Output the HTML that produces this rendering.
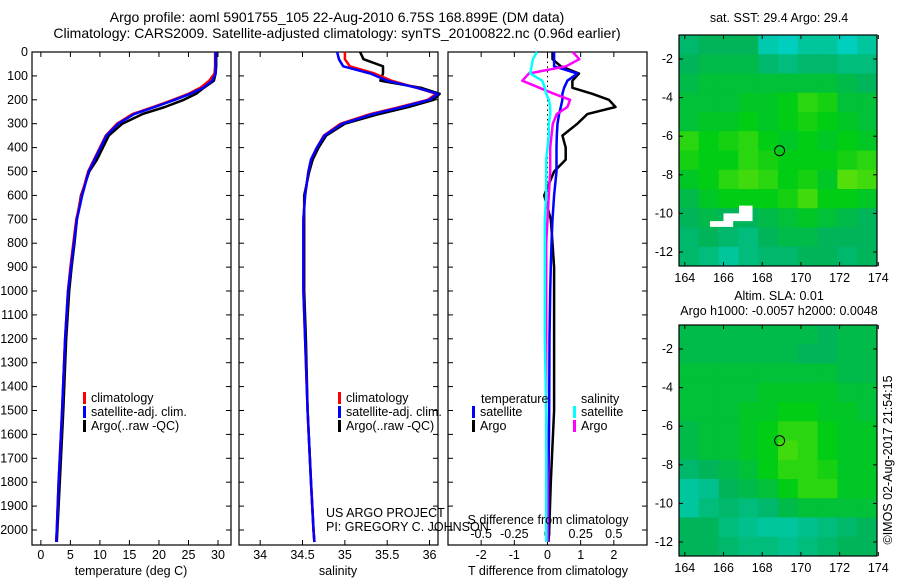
<!DOCTYPE html>
<html><head><meta charset="utf-8"><style>
body{margin:0;background:#fff;width:900px;height:580px;overflow:hidden}
svg{display:block;font-family:"Liberation Sans",sans-serif}
text{font-size:12.5px;fill:#000}
</style></head><body>
<svg id="c" width="900" height="580">
<text x="337" y="22" text-anchor="middle" style="font-size:14px">Argo profile: aoml 5901755_105 22-Aug-2010 6.75S 168.899E (DM data)</text>
<text x="337" y="38" text-anchor="middle" style="font-size:14px">Climatology: CARS2009. Satellite-adjusted climatology: synTS_20100822.nc (0.96d earlier)</text>
<text x="779" y="22" text-anchor="middle">sat. SST: 29.4 Argo: 29.4</text>
<text x="779" y="300" text-anchor="middle">Altim. SLA: 0.01</text>
<text x="779" y="315" text-anchor="middle">Argo h1000: -0.0057 h2000: 0.0048</text>
<text transform="translate(892,460) rotate(-90)" text-anchor="middle">©IMOS 02-Aug-2017 21:54:15</text>
</svg>
<script>
// ---- data ----
const depths = [0,30,60,90,120,150,175,200,230,260,300,350,400,450,500,600,700,800,900,1000,1200,1500,1800,2000,2050];
const tempClim = [29.5,29.5,29.5,29.4,28.5,27,25,22.4,19,15.5,12.9,11,10,9,8,6.9,6,5.5,5,4.6,4.1,3.6,3.0,2.7,2.6];
const tempSat  = [29.6,29.6,29.6,29.6,29,27.5,25.3,22.7,19.3,15.8,13.1,11.1,10.1,9.1,8.1,7,6.1,5.6,5.1,4.6,4.1,3.6,3.0,2.7,2.6];
const tempArgo = [29.7,29.7,29.7,29.6,29.3,27.6,26.3,24.2,21,17.2,13.8,11.5,10.5,9.5,8.2,6.8,6.1,5.7,5.2,4.8,4.3,3.8,3.2,2.8,2.7];
const salClim = [35.0,35.0,35.06,35.35,35.55,35.85,36.08,35.98,35.65,35.3,34.95,34.75,34.67,34.6,34.57,34.53,34.51,34.51,34.51,34.51,34.53,34.56,34.6,34.63,34.64];
const salSat  = [34.91,34.93,34.98,35.3,35.5,35.85,36.1,36.0,35.68,35.33,34.97,34.76,34.67,34.6,34.57,34.53,34.51,34.51,34.51,34.51,34.53,34.56,34.6,34.63,34.64];
const salArgo = [35.18,35.22,35.45,35.45,35.42,35.9,36.12,36.05,35.75,35.4,35.0,34.78,34.69,34.62,34.58,34.52,34.52,34.52,34.52,34.52,34.54,34.56,34.6,34.63,34.64];
const dTsat  = [0.2,0.2,0.2,0.9,0.6,0.5,0.45,0.45,0.4,0.35,0.3,0.28,0.27,0.27,0.27,0.2,0.15,0.12,0.1,0.08,0.06,0.05,0.03,0.02,0.02];
const dTargo = [0.15,0.15,0.4,0.95,0.75,0.75,1.35,1.85,2.05,1.2,0.9,0.45,0.55,0.55,0.2,-0.1,0.1,0.15,0.2,0.2,0.2,0.2,0.1,0.05,0.03];
const dSargo = [0.19,0.24,0.14,-0.14,-0.19,-0.06,0.05,0.17,0.15,0.07,0.04,0.03,0.02,0.02,0.02,0.01,0.0,-0.01,-0.01,-0.01,-0.01,-0.01,0,0,0];
const dSsat  = [-0.08,-0.11,-0.12,-0.13,-0.04,-0.02,-0.01,0.01,0.02,0.02,0.01,0.01,0.0,-0.01,-0.01,-0.01,-0.02,-0.02,-0.02,-0.02,-0.02,-0.01,-0.01,-0.01,-0.01];
const depthTicks = [0,100,200,300,400,500,600,700,800,900,1000,1100,1200,1300,1400,1500,1600,1700,1800,1900,2000];
const tempTicks = [0,5,10,15,20,25,30];
const salTicks = [34,34.5,35,35.5,36];
const dTTicks = [-2,-1,0,1,2];
const dSTicks = [-0.5,-0.25,0,0.25,0.5];
const lonTicks = [164,166,168,170,172,174];
const latTicks = [-2,-4,-6,-8,-10,-12];
const sstGrid = [
[0.35,0.4,0.4,0.4,0.15,0.1,0.2,0.2,0.1,0.2],
[0.4,0.45,0.45,0.45,0.35,0.3,0.35,0.35,0.3,0.3],
[0.45,0.5,0.5,0.5,0.5,0.5,0.5,0.5,0.45,0.4],
[0.5,0.5,0.5,0.55,0.55,0.6,0.7,0.65,0.5,0.5],
[0.5,0.55,0.55,0.6,0.55,0.6,0.65,0.6,0.55,0.5],
[0.7,0.6,0.65,0.7,0.6,0.55,0.6,0.55,0.6,0.55],
[0.65,0.6,0.6,0.7,0.65,0.6,0.6,0.6,0.65,0.7],
[0.55,0.6,0.7,0.75,0.7,0.6,0.65,0.55,0.8,0.75],
[0.45,0.55,0.6,0.6,0.6,0.65,0.75,0.6,0.6,0.55],
[0.4,0.45,0.4,0.4,0.45,0.5,0.55,0.5,0.45,0.4],
[0.35,0.4,0.35,0.3,0.4,0.45,0.45,0.4,0.4,0.4],
[0.35,0.3,0.2,0.3,0.35,0.35,0.4,0.4,0.35,0.4]];
const slaGrid = [
[0.45,0.45,0.45,0.45,0.45,0.45,0.45,0.4,0.45,0.45],
[0.45,0.45,0.45,0.45,0.45,0.45,0.4,0.4,0.45,0.45],
[0.5,0.5,0.5,0.5,0.5,0.5,0.5,0.5,0.45,0.45],
[0.5,0.5,0.5,0.5,0.55,0.55,0.55,0.55,0.5,0.5],
[0.5,0.5,0.5,0.55,0.55,0.6,0.6,0.55,0.55,0.5],
[0.45,0.5,0.5,0.55,0.6,0.7,0.7,0.6,0.55,0.55],
[0.45,0.5,0.5,0.55,0.6,0.75,0.7,0.6,0.55,0.55],
[0.35,0.4,0.45,0.5,0.6,0.7,0.7,0.65,0.55,0.55],
[0.2,0.25,0.4,0.45,0.5,0.6,0.7,0.7,0.55,0.55],
[0.2,0.3,0.35,0.3,0.35,0.45,0.5,0.5,0.5,0.5],
[0.4,0.4,0.3,0.25,0.2,0.2,0.25,0.3,0.35,0.4],
[0.4,0.4,0.35,0.3,0.3,0.25,0.3,0.35,0.4,0.4]];
const argoLon = 168.899, argoLat = -6.75;

// ---- drawing ----
const svg = document.getElementById('c');
const NS = 'http://www.w3.org/2000/svg';
function mk(tag, attrs, parent){const e=document.createElementNS(NS,tag);for(const k in attrs)e.setAttribute(k,attrs[k]);(parent||svg).appendChild(e);return e;}
const Y0=52, Y1=545;
const yD = d => Y0 + d*0.239;

function panel(x0,x1,xmin,xmax,name){
  const xs = v => x0 + (v-xmin)/(xmax-xmin)*(x1-x0);
  const g = mk('g',{});
  
  
  mk('rect',{x:x0,y:Y0,width:x1-x0,height:Y1-Y0,fill:'#fff',stroke:'#000','stroke-width':1.2},g);
  depthTicks.forEach(d=>{const y=yD(d);mk('line',{x1:x0,x2:x0+5,y1:y,y2:y,stroke:'#000'},g);mk('line',{x1:x1,x2:x1-5,y1:y,y2:y,stroke:'#000'},g);});
  return {xs,g};
}
function line(p,xsArr,color,name,w){
  const pts = depths.map((d,i)=>p.xs(xsArr[i]).toFixed(1)+','+yD(d).toFixed(1)).join(' ');
  const e = mk('polyline',{points:pts,fill:'none',stroke:color,'stroke-width':w||2.5,'stroke-linejoin':'round'},p.g);
  
  
}
function xticks(p,ticks,yLab,fmt){
  ticks.forEach(t=>{const x=p.xs(t);mk('line',{x1:x,x2:x,y1:Y0,y2:Y0+5,stroke:'#000'},p.g);mk('line',{x1:x,x2:x,y1:Y1,y2:Y1-5,stroke:'#000'},p.g);
    if(yLab){const tx=mk('text',{x:x,y:yLab,'text-anchor':'middle'},p.g);tx.textContent=fmt?fmt(t):t;}});
}
function legend(p,x,y,items,name){
  items.forEach((it,i)=>{
    const gg=mk('g',{},p.g);
    
    
    mk('rect',{x:x,y:y+i*14-10,width:3,height:12,fill:it[1]},gg);
    const t=mk('text',{x:x+8,y:y+i*14},gg);t.textContent=it[0];
  });
}
// depth labels
depthTicks.forEach(d=>{const t=mk('text',{x:28,y:yD(d)+4,'text-anchor':'end'});t.textContent=d;
  
  });

// Panel 1 temperature
const p1 = panel(32,231,-1.5,32.2,'temperature-panel');
xticks(p1,tempTicks,559);
line(p1,tempArgo,'#000','temp-argo-line');
line(p1,tempClim,'#f00','temp-clim-line');
line(p1,tempSat,'#00f','temp-sat-line');
legend(p1,83,402,[['climatology','#f00'],['satellite-adj. clim.','#00f'],['Argo(..raw -QC)','#000']],'temp-legend');
mk('text',{x:131,y:575,'text-anchor':'middle'}).textContent='temperature (deg C)';

// Panel 2 salinity
const p2 = panel(239,438,33.75,36.1,'salinity-panel');
xticks(p2,salTicks,559);
line(p2,salArgo,'#000','sal-argo-line');
line(p2,salClim,'#f00','sal-clim-line');
line(p2,salSat,'#00f','sal-sat-line');
legend(p2,338,402,[['climatology','#f00'],['satellite-adj. clim.','#00f'],['Argo(..raw -QC)','#000']],'sal-legend');
mk('text',{x:338,y:575,'text-anchor':'middle'}).textContent='salinity';

// Panel 3 differences
const p3 = panel(448,647,-3,3,'difference-panel');
const pS = {xs: v=>448+(v+0.75)/1.5*199, g:p3.g};
xticks(p3,dTTicks,559);
dSTicks.forEach(t=>{const tx=mk('text',{x:pS.xs(t),y:538,'text-anchor':'middle'},p3.g);tx.textContent=t;});
for(let d=0; d<600; d+=20){mk('rect',{x:p3.xs(0)-0.5,y:yD(d),width:1,height:1.5,fill:'#000'},p3.g);}
line(p3,dTargo,'#000','dT-argo-line');
line(p3,dTsat,'#00f','dT-sat-line');
line(pS,dSargo,'#f0f','dS-argo-line');
line(pS,dSsat,'#0ff','dS-sat-line');
mk('text',{x:481,y:403},p3.g).textContent='temperature';
mk('text',{x:581,y:403},p3.g).textContent='salinity';
legend(p3,472,416,[['satellite','#00f'],['Argo','#000']],'dT-legend');
legend(p3,573,416,[['satellite','#0ff'],['Argo','#f0f']],'dS-legend');
mk('text',{x:548,y:524,'text-anchor':'middle'},p3.g).textContent='S difference from climatology';
mk('text',{x:548,y:575,'text-anchor':'middle'}).textContent='T difference from climatology';

// project labels drawn on top
const pl=mk('text',{x:326,y:517});pl.textContent='US ARGO PROJECT';


const pi=mk('text',{x:326,y:531});pi.textContent='PI: GREGORY C. JOHNSON';



// Maps
function cmap(v){
  const stops=[[0,[0,215,225]],[0.4,[0,180,90]],[0.6,[0,205,20]],[1,[170,240,0]]];
  for(let i=1;i<stops.length;i++){if(v<=stops[i][0]){const a=stops[i-1],b=stops[i];const f=(v-a[0])/(b[0]-a[0]);
    return 'rgb('+a[1].map((c,j)=>Math.round(c+(b[1][j]-c)*f)).join(',')+')';}}
  return 'rgb(170,240,0)';
}
function map(grid,top,name,white){
  const L=679,R=877,B=top+231;
  const xs = lon => L + (lon-163.7)*19.35;
  const ys = lat => top + 24 + (-2-lat)*19.3;
  const g=mk('g',{});
  
  
  const nr=grid.length,nc=grid[0].length,cw=(R-L)/nc,ch=(B-top)/nr;
  grid.forEach((row,r)=>row.forEach((v,c)=>{
    const cell=mk('rect',{x:L+c*cw,y:top+r*ch,width:cw+0.5,height:ch+0.5,fill:cmap(v)},g);
    
    
  }));
  if(white) mk('path',{d:`M${xs(165.3)},${ys(-10.7)} L${xs(165.3)},${ys(-10.4)} L${xs(166)},${ys(-10.4)} L${xs(166)},${ys(-10)} L${xs(166.8)},${ys(-10)} L${xs(166.8)},${ys(-9.6)} L${xs(167.5)},${ys(-9.6)} L${xs(167.5)},${ys(-10.4)} L${xs(166.5)},${ys(-10.4)} L${xs(166.5)},${ys(-10.7)} Z`,fill:'#fff'},g);
  mk('rect',{x:L,y:top,width:R-L,height:B-top,fill:'none',stroke:'#000','stroke-width':1.2},g);
  lonTicks.forEach(t=>{const x=xs(t);mk('line',{x1:x,x2:x,y1:top,y2:top+4,stroke:'#000'},g);mk('line',{x1:x,x2:x,y1:B,y2:B-4,stroke:'#000'},g);
    mk('text',{x:x,y:B+16,'text-anchor':'middle'},g).textContent=t;});
  latTicks.forEach(t=>{const y=ys(t);mk('line',{x1:L,x2:L+4,y1:y,y2:y,stroke:'#000'},g);mk('line',{x1:R,x2:R-4,y1:y,y2:y,stroke:'#000'},g);
    mk('text',{x:L-6,y:y+4,'text-anchor':'end'},g).textContent=t;});
  const m=mk('circle',{cx:xs(argoLon),cy:ys(argoLat),r:5,fill:'none',stroke:'#000','stroke-width':1},g);
  
  
}
map(sstGrid,35,'sst-map',true);
map(slaGrid,325,'sla-map',false);
</script>
</body></html>
